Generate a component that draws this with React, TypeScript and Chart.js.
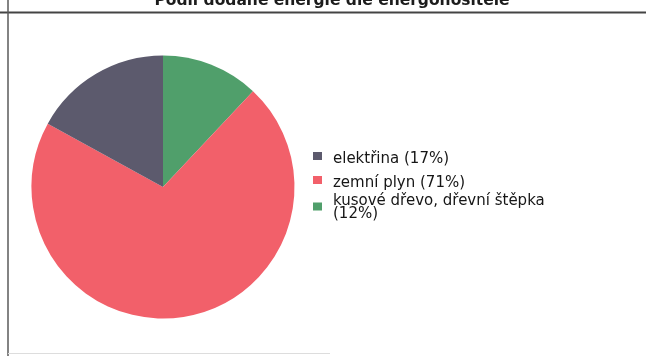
import React, { useEffect, useRef } from "react";
import { Chart, registerables } from "chart.js";

Chart.register(...registerables);

const TITLE = "Podíl dodané energie dle energonositele";
const categories = ["elektřina", "zemní plyn", "kusové dřevo, dřevní štěpka"];
const shares = [17, 71, 12];
const sliceColors = ["#5c5a6d", "#f2606a", "#509f6b"];

const FONT = "'DejaVu Sans', sans-serif";

export default function App() {
  const ref = useRef<HTMLCanvasElement>(null);

  useEffect(() => {
    const canvas = ref.current;
    if (!canvas) return;

    const framePlugin = {
      id: "frame",
      beforeDraw(chart: any) {
        const ctx = chart.ctx as CanvasRenderingContext2D;
        ctx.save();
        ctx.fillStyle = "#ffffff";
        ctx.fillRect(0, 0, chart.width, chart.height);
        // title (partly cut off at top)
        ctx.fillStyle = "#1c1c1c";
        ctx.font = `bold 15.5px ${FONT}`;
        ctx.textAlign = "center";
        ctx.textBaseline = "alphabetic";
        ctx.fillText(TITLE, 332, 5);
        // frame lines
        ctx.strokeStyle = "#444444";
        ctx.lineWidth = 2;
        ctx.beginPath();
        ctx.moveTo(0, 12.5);
        ctx.lineTo(chart.width, 12.5);
        ctx.stroke();
        ctx.strokeStyle = "#5a5a5a";
        ctx.lineWidth = 1.5;
        ctx.beginPath();
        ctx.moveTo(8, 0);
        ctx.lineTo(8, chart.height);
        ctx.stroke();
        ctx.strokeStyle = "#dddddd";
        ctx.lineWidth = 1;
        ctx.beginPath();
        ctx.moveTo(8, 353.5);
        ctx.lineTo(330, 353.5);
        ctx.stroke();
        ctx.restore();
      },
      afterDraw(chart: any) {
        const ctx = chart.ctx as CanvasRenderingContext2D;
        ctx.save();
        ctx.font = `15px ${FONT}`;
        ctx.textAlign = "left";
        ctx.textBaseline = "alphabetic";
        const boxX = 313;
        const textX = 333;
        const maxW = 240;
        const lineH = 13;
        const baselines = [163, 187, 205];
        categories.forEach((cat, i) => {
          const text = `${cat} (${shares[i]}%)`;
          const words = text.split(" ");
          const lines: string[] = [];
          let cur = "";
          words.forEach((w) => {
            const test = cur ? cur + " " + w : w;
            if (ctx.measureText(test).width > maxW && cur) {
              lines.push(cur);
              cur = w;
            } else cur = test;
          });
          if (cur) lines.push(cur);
          const b = baselines[i];
          const boxCenter = lines.length > 1 ? b + 1.5 : b - 7;
          ctx.fillStyle = sliceColors[i];
          ctx.fillRect(boxX, boxCenter - 4, 9, 8);
          ctx.fillStyle = "#161616";
          lines.forEach((ln, k) => ctx.fillText(ln, textX, b + k * lineH));
        });
        ctx.restore();
      },
    };

    const chart = new Chart(canvas, {
      type: "pie",
      data: {
        labels: [...categories].reverse(),
        datasets: [
          {
            data: [...shares].reverse(),
            backgroundColor: [...sliceColors].reverse(),
            borderWidth: 0,
          },
        ],
      },
      options: {
        responsive: false,
        animation: false,
        layout: { padding: { left: 31.5, right: 351.5, top: 55.5, bottom: 37.5 } },
        plugins: {
          legend: { display: false },
          tooltip: { enabled: false },
          title: { display: false },
        },
      },
      plugins: [framePlugin],
    });

    return () => chart.destroy();
  }, []);

  return (
    <div style={{ position: "fixed", left: 0, top: 0, width: 646, height: 356, background: "#fff" }}>
      <canvas ref={ref} width={646} height={356} style={{ display: "block" }} />
    </div>
  );
}
